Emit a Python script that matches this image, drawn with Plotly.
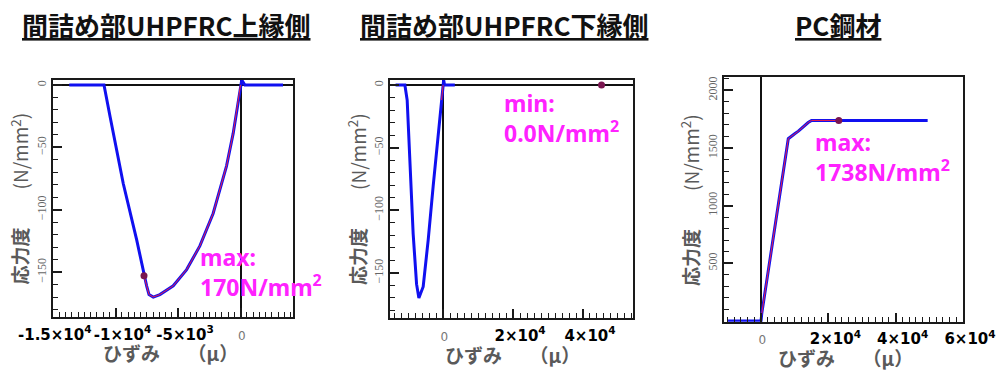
import plotly.graph_objects as go

W, H = 1001, 371

# ---------------- data ----------------
# Panel 1: 間詰め部UHPFRC上縁側
p1_strain = [-13700, -10920, -10440, -9380, -8310, -7720, -7510, -7320, -6980, -6450,
             -5380, -4310, -3250, -2190, -1120, -590, -190, 0, 100, 350, 3400]
p1_stress = [0, 0, -25, -79, -124, -153, -161, -168, -170, -168,
             -161, -148, -129, -103, -65, -39, -12, 0, 4, 0, 0]
p1_hist_strain = [0, -190, -590, -1120, -2190, -3250, -4310, -5380, -6450, -6980, -7320, -7510, -7720]
p1_hist_stress = [0, -12, -39, -65, -103, -129, -148, -161, -168, -170, -168, -161, -153]
p1_point = ([-7720], [-153])

# Panel 2: 間詰め部UHPFRC下縁側
p2_strain = [-13600, -10940, -10290, -9500, -8570, -7600, -6940, -5710, -4290, -2860,
             -1430, -460, 0, 150, 400, 3340]
p2_stress = [0, 0, -12, -60, -119, -159, -170, -161, -124, -81,
             -39, -12, 0, 4, 0, 0]
p2_hist_strain = [-460, 0]
p2_hist_stress = [-12, 0]
p2_point = ([45300], [0])

# Panel 3: PC鋼材
p3_strain = [-9800, 0, 200, 8100, 10100, 11100, 14000, 15000, 49500]
p3_stress = [0, 0, 60, 1580, 1625, 1645, 1720, 1738, 1738]
p3_hist_strain = [0, 200, 8100, 10100, 11100, 14000, 15000, 23100]
p3_hist_stress = [0, 60, 1580, 1625, 1645, 1720, 1738, 1738]
p3_point = ([23100], [1738])

titles = ["間詰め部UHPFRC上縁側", "間詰め部UHPFRC下縁側", "PC鋼材"]
notes = ["max:<br>170N/mm<sup>2</sup>", "min:<br>0.0N/mm<sup>2</sup>", "max:<br>1738N/mm<sup>2</sup>"]

ZERO = '<span style="font-size:12px;color:#777777;font-weight:normal">0\u00a0\u00a0\u00a0</span>'
p1_xticks = [-15000, -10000, -5000, 0]
p1_xtext = ["-1.5×10<sup>4</sup>\u00a0\u00a0", "-1×10<sup>4</sup>", "-5×10<sup>3</sup>", ZERO]
p2_xticks = [0, 20000, 40000]
p2_xtext = [ZERO, "2×10<sup>4</sup>", "4×10<sup>4</sup>"]
p3_xticks = [0, 20000, 40000, 60000]
p3_xtext = [ZERO, "2×10<sup>4</sup>", "4×10<sup>4</sup>", "6×10<sup>4</sup>"]

p12_yticks = [0, -50, -100, -150]
p12_ytext = ["0", "−50", "−100", "−150"]
p3_yticks = [500, 1000, 1500, 2000]
p3_ytext = ["500", "1000", "1500", "2000"]

# ---------------- layout geometry (pixels) ----------------
boxes = [  # x0, x1, y0(top), y1(bottom)
    (53, 293, 80, 317),
    (390, 633, 80, 318),
    (724, 963, 77.3, 321.7),
]
xranges = [[-15000, 4200], [-15200, 54300], [-11000, 60000]]
yranges = [[-186, 4], [-186, 4], [-6, 2112]]
xminor = [500, 2000, 2000]
yminor = [10, 10, 100]


def minor_vals(rng, step, majors):
    start = int(rng[0] // step) * step
    vals = []
    v = start
    while v <= rng[1]:
        if v >= rng[0] and v not in majors:
            vals.append(v)
        v += step
    return vals


BLUE = "#1010f0"
RED = "#e8204a"
DOT = "#7a1650"
MAG = "#ff22ff"
GRAY = "#5a5a5a"
AXC = "#1a1a1a"

fig = go.Figure()

datasets = [
    (p1_strain, p1_stress, p1_hist_strain, p1_hist_stress, p1_point),
    (p2_strain, p2_stress, p2_hist_strain, p2_hist_stress, p2_point),
    (p3_strain, p3_stress, p3_hist_strain, p3_hist_stress, p3_point),
]
xt = [(p1_xticks, p1_xtext), (p2_xticks, p2_xtext), (p3_xticks, p3_xtext)]
yt = [(p12_yticks, p12_ytext), (p12_yticks, p12_ytext), (p3_yticks, p3_ytext)]

for i, (sx, sy, hx, hy, pt) in enumerate(datasets):
    ax = "" if i == 0 else str(i + 1)
    xa, ya = "x" + ax, "y" + ax
    fig.add_trace(go.Scatter(x=sx, y=sy, mode="lines", line=dict(color=BLUE, width=3),
                             xaxis=xa, yaxis=ya, showlegend=False))
    fig.add_trace(go.Scatter(x=hx, y=hy, mode="lines", line=dict(color=RED, width=1),
                             xaxis=xa, yaxis=ya, showlegend=False))
    fig.add_trace(go.Scatter(x=pt[0], y=pt[1], mode="markers",
                             marker=dict(color=DOT, size=7), xaxis=xa, yaxis=ya, showlegend=False))

    x0, x1, t, b = boxes[i]
    xdom = [x0 / W, x1 / W]
    ydom = [1 - b / H, 1 - t / H]
    common = dict(showline=True, linecolor=AXC, linewidth=1.5, mirror=True,
                  showgrid=False, zeroline=True, zerolinecolor="#111111", zerolinewidth=1.5,
                  automargin=False, ticks="inside", tickcolor=AXC, tickwidth=1.5,
                  ticklen=9, tickmode="array")
    xdict = dict(
        domain=xdom, range=xranges[i], anchor=ya,
        tickvals=xt[i][0], ticktext=xt[i][1], ticklabelstandoff=3, tickangle=0,
        ticklabelshift=7,
        tickfont=dict(family="DejaVu Sans", size=15, color="#000000", weight="bold"),
        minor=dict(ticks="inside", ticklen=5, tickcolor=AXC, tickwidth=1.3,
                   tickvals=minor_vals(xranges[i], xminor[i], xt[i][0])),
        **common)
    ydict = dict(
        domain=ydom, range=yranges[i], anchor=xa,
        tickvals=yt[i][0], ticktext=yt[i][1], tickangle=-90,
        tickfont=dict(family="Liberation Sans Narrow", size=12, color="#666666"),
        minor=dict(ticks="inside", ticklen=5, tickcolor=AXC, tickwidth=1.3,
                   tickvals=minor_vals(yranges[i], yminor[i], yt[i][0])),
        **common)
    fig.layout["xaxis" + ax] = xdict
    fig.layout["yaxis" + ax] = ydict

# ---------------- text ----------------
title_pos = [(165.5, 25), (503.5, 25), (838, 25)]
for (cx, cy), txt in zip(title_pos, titles):
    fig.add_annotation(x=cx / W, y=1 - cy / H, xref="paper", yref="paper", text=txt,
                       showarrow=False, xanchor="center", yanchor="middle",
                       font=dict(family="Noto Sans CJK JP", size=26, color="#111111",
                                 weight="bold", lineposition="under"))

ytitle_pos = [(20, 198.5), (357, 199), (690, 200)]
for cx, cy in ytitle_pos:
    fig.add_annotation(x=cx / W, y=1 - cy / H, xref="paper", yref="paper",
                       text="<b>応力度</b>\u3000\u3000(N/mm<sup>2</sup>)", textangle=-90,
                       showarrow=False, xanchor="center", yanchor="middle",
                       font=dict(family="Noto Sans CJK JP", size=19, color=GRAY))

xtitle_pos = [(170, 352), (512, 354), (845, 357)]
for cx, cy in xtitle_pos:
    fig.add_annotation(x=cx / W, y=1 - cy / H, xref="paper", yref="paper",
                       text="<b>ひずみ</b>\u3000\u00a0\u00a0<b>（μ）</b>",
                       showarrow=False, xanchor="center", yanchor="middle",
                       font=dict(family="Noto Sans CJK JP", size=19, color=GRAY))

note_pos = [(198, 272), (502, 118), (813, 157)]
for (lx, cy), txt in zip(note_pos, notes):
    fig.add_annotation(x=lx / W, y=1 - cy / H, xref="paper", yref="paper", text=txt,
                       showarrow=False, xanchor="left", yanchor="middle", align="left",
                       font=dict(family="Noto Sans", size=23, color=MAG, weight="bold"))

fig.update_layout(width=W, height=H, margin=dict(l=0, r=0, t=0, b=0),
                  paper_bgcolor="white", plot_bgcolor="white")

fig.write_html("out.html", config={"displayModeBar": False},
               post_script="document.body.style.margin='0';document.body.style.overflow='hidden';")
